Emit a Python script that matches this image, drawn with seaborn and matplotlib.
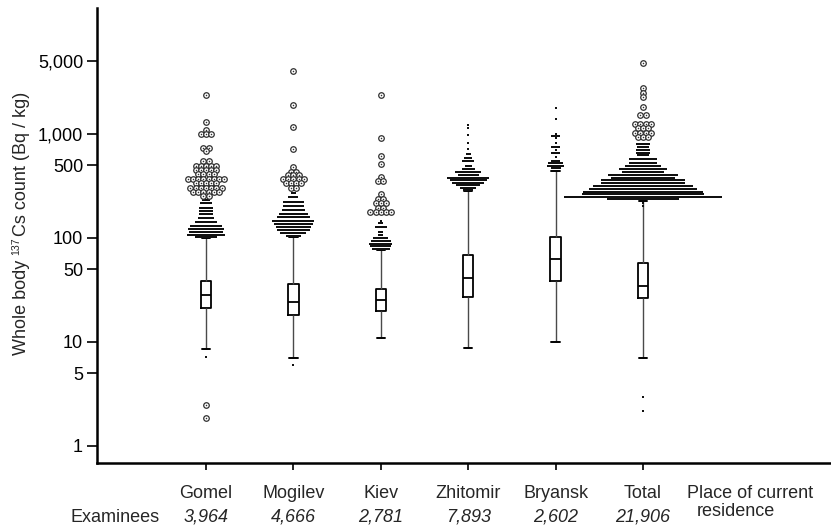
import numpy as np
import pandas as pd
import matplotlib
matplotlib.use("Agg")
import matplotlib.pyplot as plt
import matplotlib.transforms as mtransforms
from matplotlib.ticker import NullLocator
import seaborn as sns

# ---- data -----------------------------------------------------------------
places = ["Gomel", "Mogilev", "Kiev", "Zhitomir", "Bryansk", "Total"]
examinees = ["3,964", "4,666", "2,781", "7,893", "2,602", "21,906"]

# box-and-whisker statistics (Bq/kg)
whisker_low = [8.6, 7.0, 11.0, 8.7, 10.1, 7.0]
quartile_1 = [21.1, 18.1, 19.9, 27.1, 38.8, 26.5]
median_bq = [28.3, 24.4, 25.2, 41.5, 62.8, 34.8]
quartile_3 = [38.8, 36.1, 32.6, 69.1, 101.6, 57.1]
whisker_high = [100, 102, 77, 280, 445, 228]

# outside values: value of each row and number of examinees in that row
gomel_out_bq = [232, 216, 196, 182, 169, 157, 143, 131, 122, 115, 108, 103, 7.2]
gomel_out_n = [5, 7, 8, 9, 8, 10, 13, 20, 22, 21, 23, 13, 1]
mogilev_out_bq = [273, 250, 223, 205, 186, 170, 158, 147, 136, 128, 119, 111, 105, 5.97]
mogilev_out_n = [3, 6, 13, 13, 14, 18, 20, 26, 24, 22, 20, 16, 9, 1]
kiev_out_bq = [145, 140, 128, 115, 108, 99, 93, 88, 83, 78]
kiev_out_n = [1, 3, 7, 3, 3, 9, 12, 14, 13, 11]
zhitomir_out_bq = [1222, 1135, 977, 824, 712, 638, 592, 550, 492, 464, 432, 406,
                   380, 361, 341, 321, 303, 289]
zhitomir_out_n = [1, 1, 1, 1, 1, 3, 5, 7, 4, 8, 16, 13, 26, 23, 20, 15, 10, 6]
bryansk_out_bq = [1766, 1384, 1000, 963, 908, 814, 755, 702, 652, 605, 554, 522, 495, 468]
bryansk_out_n = [1, 1, 1, 5, 1, 1, 5, 1, 5, 1, 5, 9, 10, 6]
total_out_bq = [796, 755, 702, 661, 628, 575, 530, 492, 457, 428, 404, 380, 359, 336,
                316, 296, 279, 263, 246, 235, 215, 205, 2.96, 2.17]
total_out_n = [9, 7, 9, 9, 7, 17, 17, 22, 30, 26, 43, 40, 52, 52, 62, 67, 75, 76,
               98, 45, 1, 1, 1, 1]

# far-outside values (open circles)
gomel_far_bq = [2371, 1313, 1092, 993, 738, 687, 550, 492, 451, 410, 372, 336, 305,
                275, 255, 2.48, 1.87]
gomel_far_n = [1, 1, 1, 3, 2, 1, 2, 5, 5, 4, 8, 5, 7, 6, 2, 1, 1]
mogilev_far_bq = [4035, 1900, 1175, 717, 485, 434, 404, 367, 336, 305]
mogilev_far_n = [1, 1, 1, 1, 1, 2, 3, 5, 4, 2]
kiev_far_bq = [2380, 908, 620, 512, 387, 350, 263, 237, 216, 193, 177]
kiev_far_n = [1, 1, 1, 1, 1, 2, 1, 2, 3, 2, 5]
zhitomir_far_bq = []
zhitomir_far_n = []
bryansk_far_bq = []
bryansk_far_n = []
total_far_bq = [4786, 2754, 2495, 2254, 1831, 1524, 1239, 1135, 1029, 942]
total_far_n = [1, 1, 1, 1, 1, 2, 4, 3, 4, 3]

y_ticks = [1, 5, 10, 50, 100, 500, 1000, 5000]
y_tick_labels = ["1", "5", "10", "50", "100", "500", "1,000", "5,000"]

# ---- style ----------------------------------------------------------------
sns.set_style("ticks")
plt.rcParams["font.family"] = ["Liberation Sans", "DejaVu Sans"]
FS = 13
BOX_WIDTH = 0.12

W, H = 831, 528
fig = plt.figure(figsize=(W / 100, H / 100), dpi=100)
ax = fig.add_axes([97 / W, 65 / H, 734 / W, 455 / H])

# boxes: five summary values per place give exact quartiles and whisker ends
stats = np.column_stack([whisker_low, quartile_1, median_bq, quartile_3, whisker_high])
df = pd.DataFrame({
    "place": np.repeat(places, stats.shape[1]),
    "bq": stats.ravel(),
})
sns.boxplot(
    data=df, x="place", y="bq", order=places, whis=(0, 100), width=BOX_WIDTH,
    fill=False, color="black", linewidth=1.3, showfliers=False, log_scale=True,
    whiskerprops=dict(color="#4a4a4a", linewidth=1.0),
    capprops=dict(color="black", linewidth=1.4),
    ax=ax,
)

# widen the whisker caps to most of the box width
for line in ax.lines:
    xd, yd = np.asarray(line.get_xdata(), float), np.asarray(line.get_ydata(), float)
    if len(xd) == 2 and yd[0] == yd[1] and abs(xd[1] - xd[0]) < 0.8 * BOX_WIDTH:
        mid = xd.mean()
        line.set_xdata([mid - 0.4 * BOX_WIDTH, mid + 0.4 * BOX_WIDTH])

x_lo, x_hi = -1.247, 7.15
ax.set_xlim(x_lo, x_hi)
ax.set_ylim(0.686, 16270)

px_per_unit = 734 / (x_hi - x_lo)
dot_step = 1.6 / px_per_unit
ring_step = 5.2 / px_per_unit


def rows_to_points(center, values, counts, step):
    xs, ys = [], []
    for v, n in zip(values, counts):
        xs.extend(center + (np.arange(n) - (n - 1) / 2) * step)
        ys.extend([v] * n)
    return np.array(xs), np.array(ys)


outside = [(gomel_out_bq, gomel_out_n), (mogilev_out_bq, mogilev_out_n),
           (kiev_out_bq, kiev_out_n), (zhitomir_out_bq, zhitomir_out_n),
           (bryansk_out_bq, bryansk_out_n), (total_out_bq, total_out_n)]
far_out = [(gomel_far_bq, gomel_far_n), (mogilev_far_bq, mogilev_far_n),
           (kiev_far_bq, kiev_far_n), (zhitomir_far_bq, zhitomir_far_n),
           (bryansk_far_bq, bryansk_far_n), (total_far_bq, total_far_n)]

# outside values: tightly packed small squares so each row reads as a bar
for i, (vals, counts) in enumerate(outside):
    xs, ys = rows_to_points(i, vals, counts, dot_step)
    ax.scatter(xs, ys, s=1.9, marker="s", c="#111111", linewidths=0, zorder=3)

# far-outside values: ring with a centre dot
for i, (vals, counts) in enumerate(far_out):
    if not vals:
        continue
    xs, ys = rows_to_points(i, vals, counts, ring_step)
    ax.scatter(xs, ys, s=16, facecolors="white", edgecolors="#303030",
               linewidths=0.9, zorder=4)
    ax.scatter(xs, ys, s=1.2, c="#303030", linewidths=0, zorder=5)

# ---- axes -----------------------------------------------------------------
ax.set_yticks(y_ticks)
ax.set_yticklabels(y_tick_labels, fontsize=FS)
ax.yaxis.set_minor_locator(NullLocator())
ax.set_xticks(range(len(places)))
ax.set_xticklabels([])
ax.set_xlabel("")
ax.set_ylabel("")
ax.tick_params(axis="y", length=7, width=1.2, pad=3, colors="black")
ax.tick_params(axis="x", length=5, width=1.2, colors="black")
sns.despine(ax=ax)
for side in ("left", "bottom"):
    ax.spines[side].set_linewidth(1.8)
    ax.spines[side].set_color("black")

name_tr = mtransforms.offset_copy(ax.get_xaxis_transform(), fig=fig, y=-31, units="dots")
count_tr = mtransforms.offset_copy(ax.get_xaxis_transform(), fig=fig, y=-54, units="dots")
for i, (name, n) in enumerate(zip(places, examinees)):
    ax.text(i, 0, name, transform=name_tr, ha="center", va="center", fontsize=FS)
    ax.text(i, 0, n, transform=count_tr, ha="center", va="center", fontsize=FS,
            style="italic")

fig.text(70 / W, 1 - 517 / H, "Examinees", ha="left", va="center", fontsize=FS)
fig.text(687 / W, 1 - 494 / H, "Place of current", ha="left", va="center", fontsize=FS)
fig.text(697 / W, 1 - 511 / H, "residence", ha="left", va="center", fontsize=FS)

# rotated y label with a small raised mass number, laid out piece by piece
renderer = fig.canvas.get_renderer()
label_pieces = [("Whole body", FS, 22, 5), ("137", FS * 0.58, 16, 1),
                ("Cs count (Bq / kg)", FS, 22, 0)]
y_px = 355
for text, size, x_px, gap in label_pieces:
    t = fig.text(x_px / W, 1 - y_px / H, text, rotation=90, ha="center",
                 va="bottom", fontsize=size)
    ext = t.get_window_extent(renderer)
    y_px -= ext.height + gap

fig.savefig("out.png", dpi=100)
